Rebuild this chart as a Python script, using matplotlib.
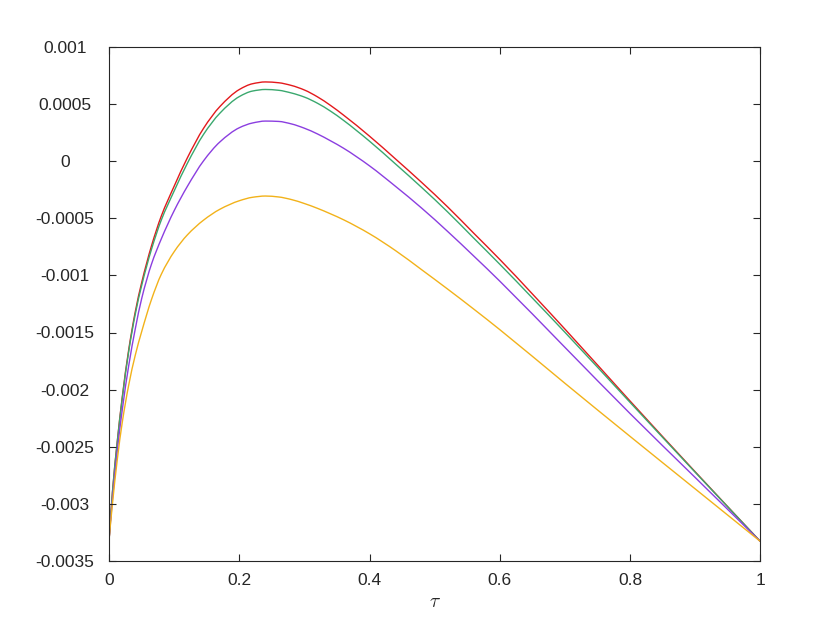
import numpy as np
import matplotlib.pyplot as plt
from matplotlib.path import Path
from matplotlib.patches import PathPatch

plt.rcParams['font.family'] = ['Liberation Sans', 'DejaVu Sans']
plt.rcParams['mathtext.fontset'] = 'cm'

# tau grid and the four curves
tau = [0, 0.005, 0.0125, 0.02, 0.03, 0.04, 0.05, 0.065, 0.08, 0.1, 0.12, 0.145,
       0.17, 0.2, 0.22, 0.24, 0.26, 0.28, 0.3, 0.32, 0.34, 0.36, 0.4, 0.44,
       0.48, 0.52, 0.56, 0.6, 0.7, 0.8, 0.9, 1.0]

red = [-0.0033, -0.0029, -0.00245, -0.00207, -0.00165, -0.00132, -0.00106, -0.00074,
       -0.00048, -0.000215, 0.00003, 0.00029, 0.00048, 0.00063, 0.00068, 0.000696,
       0.000689, 0.000665, 0.000625, 0.000565, 0.00049, 0.000405, 0.00022, 0.00002,
       -0.000185, -0.0004, -0.00063, -0.00086, -0.00147, -0.0021, -0.00272, -0.00333]

green = [-0.0033, -0.0029, -0.002455, -0.00208, -0.001665, -0.00134, -0.001085, -0.00077,
         -0.000515, -0.000257, -0.000018, 0.000237, 0.000422, 0.000568, 0.000616, 0.00063,
         0.000623, 0.000599, 0.000563, 0.000509, 0.00044, 0.000359, 0.000176, -0.000024,
         -0.000229, -0.000444, -0.000673, -0.000902, -0.001498, -0.002112, -0.002724, -0.00333]

purple = [-0.0033, -0.00296, -0.00253, -0.00218, -0.00179, -0.00147, -0.0012, -0.0009,
          -0.00068, -0.00043, -0.00022, 0.000005, 0.00017, 0.000295, 0.000336, 0.000353,
          0.00035, 0.000328, 0.00029, 0.00024, 0.00018, 0.000115, -0.00004, -0.00022,
          -0.00041, -0.000615, -0.00083, -0.00105, -0.00163, -0.00221, -0.00277, -0.00333]

orange = [-0.0033, -0.003, -0.00261, -0.00229, -0.00196, -0.0017, -0.00149, -0.00121,
          -0.00099, -0.00079, -0.000645, -0.000515, -0.00042, -0.000345, -0.000315, -0.000304,
          -0.000312, -0.000335, -0.00037, -0.000412, -0.00046, -0.000512, -0.000635, -0.000783,
          -0.00095, -0.00112, -0.001295, -0.001475, -0.001945, -0.00241, -0.00287, -0.00333]

xticks = [0, 0.2, 0.4, 0.6, 0.8, 1]
xlabels = ['0', '0.2', '0.4', '0.6', '0.8', '1']
yticks = [0.001, 0.0005, 0, -0.0005, -0.001, -0.0015, -0.002, -0.0025, -0.003, -0.0035]
ylabels = ['0.001', '0.0005', '0', '-0.0005', '-0.001', '-0.0015', '-0.002',
           '-0.0025', '-0.003', '-0.0035']


def smooth_path(x, y):
    # monotone cubic (Fritsch-Carlson) drawn as bezier segments through the points
    x = np.asarray(x, float)
    y = np.asarray(y, float)
    h = np.diff(x)
    d = np.diff(y) / h
    m = np.zeros_like(y)
    m[0], m[-1] = d[0], d[-1]
    for i in range(1, len(x) - 1):
        if d[i - 1] * d[i] > 0:
            w1 = 2 * h[i] + h[i - 1]
            w2 = h[i] + 2 * h[i - 1]
            m[i] = (w1 + w2) / (w1 / d[i - 1] + w2 / d[i])
    verts = [(x[0], y[0])]
    codes = [Path.MOVETO]
    for i in range(len(x) - 1):
        verts += [(x[i] + h[i] / 3, y[i] + m[i] * h[i] / 3),
                  (x[i + 1] - h[i] / 3, y[i + 1] - m[i + 1] * h[i] / 3),
                  (x[i + 1], y[i + 1])]
        codes += [Path.CURVE4] * 3
    return Path(verts, codes)


fig = plt.figure(figsize=(8.4, 6.3), dpi=100)
ax = fig.add_axes([0.13, 0.11, 0.775, 0.815])

for vals, col in [(red, '#e3191c'), (green, '#3aa86e'),
                  (purple, '#8b3ee0'), (orange, '#f2b21a')]:
    ax.add_patch(PathPatch(smooth_path(tau, vals), facecolor='none',
                           edgecolor=col, lw=1.0, clip_on=True))

ax.set_xlim(0, 1)
ax.set_ylim(-0.0035, 0.001)
ax.set_xticks(xticks)
ax.set_xticklabels(xlabels)
ax.set_yticks(yticks)
ax.set_yticklabels(ylabels, ha='center')

dark = '#262626'
for s in ax.spines.values():
    s.set_color(dark)
    s.set_linewidth(0.8)
ax.tick_params(axis='both', direction='in', top=True, right=True, length=4.7,
               width=0.8, color=dark, labelcolor=dark, labelsize=12.5)
ax.tick_params(axis='y', pad=32)
ax.tick_params(axis='x', pad=9)

ax.set_xlabel(r'$\tau$', fontsize=14, color=dark, labelpad=4)

fig.savefig('out.png', dpi=100)
